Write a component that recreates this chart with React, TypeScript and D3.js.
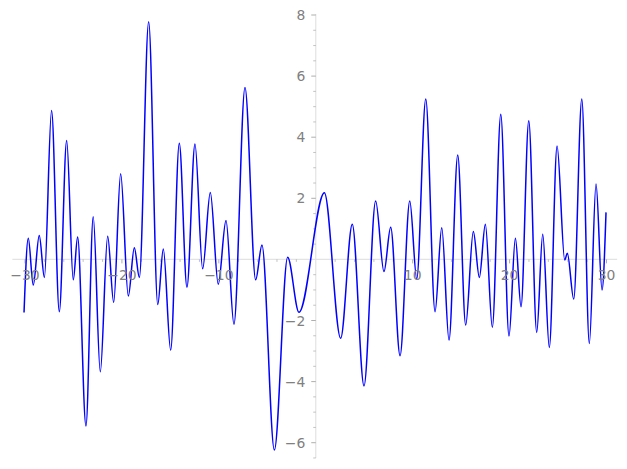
import React from "react";
import * as d3 from "d3";

// extrema of the curve (x, y)
const xs = [-30.1, -29.66, -29.15, -28.53, -28.0, -27.26, -26.46, -25.7, -25.02, -24.57, -23.71, -22.96, -22.23, -21.47, -20.85, -20.13, -19.34, -18.72, -18.2, -17.24, -16.3, -15.73, -14.97, -14.08, -13.29, -12.46, -11.67, -10.88, -10.06, -9.26, -8.44, -7.3, -6.2, -5.55, -4.27, -2.9, -1.73, 0.89, 2.57, 3.77, 4.98, 6.18, 7.04, 7.73, 8.7, 9.7, 10.42, 11.35, 12.31, 13.0, 13.75, 14.65, 15.47, 16.26, 16.88, 17.5, 18.22, 19.09, 19.94, 20.6, 21.18, 21.98, 22.8, 23.42, 24.1, 24.9, 25.69, 25.96, 26.62, 27.45, 28.23, 28.92, 29.54, 29.95];
const ys = [-1.74, 0.69, -0.84, 0.78, -0.59, 4.87, -1.71, 3.89, -0.67, 0.73, -5.45, 1.4, -3.68, 0.76, -1.41, 2.8, -1.2, 0.38, -0.59, 7.78, -1.48, 0.34, -2.97, 3.8, -0.91, 3.78, -0.31, 2.19, -0.81, 1.27, -2.12, 5.63, -0.67, 0.47, -6.24, 0.07, -1.73, 2.18, -2.58, 1.15, -4.14, 1.91, -0.4, 1.05, -3.15, 1.91, -0.64, 5.25, -1.71, 1.04, -2.64, 3.42, -2.15, 0.91, -0.59, 1.15, -2.22, 4.75, -2.51, 0.69, -1.55, 4.54, -2.39, 0.82, -2.88, 3.71, -0.02, 0.2, -1.3, 5.25, -2.75, 2.47, -1.0, 1.54];

const xMajor = [-30, -20, -10, 10, 20, 30];
const xMinor = [-28, -26, -24, -22, -18, -16, -14, -12, -8, -6, -4, -2, 2, 4, 6, 8, 12, 14, 16, 18, 22, 24, 26, 28];
const yMajor = [-6, -4, -2, 2, 4, 6, 8];
const yMinorStep = 0.5;

const W = 627;
const H = 469;

export default function App() {
  const x = d3.scaleLinear().domain([-30, 30]).range([25, 606.5]);
  const y = d3.scaleLinear().domain([-6, 8]).range([442.7, 15]);
  const pts: [number, number][] = xs.map((v, i) => [v, ys[i]]);
  const line = d3
    .line<[number, number]>()
    .x((d) => x(d[0]))
    .y((d) => y(d[1]))
    .curve(d3.curveMonotoneX);

  const yMinor: number[] = [];
  for (let v = -6.5; v <= 8.001; v += yMinorStep) {
    if (Math.abs(v) > 1e-6 && !yMajor.some((m) => Math.abs(m - v) < 1e-6)) yMinor.push(v);
  }

  const axisColor = "#e3e3e3";
  const tickColor = "#999999";
  const labelColor = "#808080";
  const font = "DejaVu Sans, sans-serif";

  return (
    <svg width={W} height={H} style={{ position: "absolute", left: 0, top: 0 }}>
      <rect width={W} height={H} fill="#fff" />
      {/* axes lines */}
      <line x1={x(-31.3)} x2={x(31.1)} y1={y(0)} y2={y(0)} stroke={axisColor} strokeWidth={1.2} />
      <line x1={x(0)} x2={x(0)} y1={y(8.03)} y2={y(-6.5)} stroke={axisColor} strokeWidth={1.2} />
      {/* x ticks */}
      {xMajor.map((v) => (
        <line key={"xM" + v} x1={x(v)} x2={x(v)} y1={y(0)} y2={y(0) + 4} stroke={tickColor} strokeWidth={0.8} />
      ))}
      {xMinor.map((v) => (
        <line key={"xm" + v} x1={x(v)} x2={x(v)} y1={y(0)} y2={y(0) + 2.5} stroke={tickColor} strokeWidth={0.6} />
      ))}
      {/* y ticks */}
      {yMajor.map((v) => (
        <line key={"yM" + v} x1={x(0) - 4.5} x2={x(0)} y1={y(v)} y2={y(v)} stroke={tickColor} strokeWidth={0.8} />
      ))}
      {yMinor.map((v) => (
        <line key={"ym" + v} x1={x(0) - 2.5} x2={x(0)} y1={y(v)} y2={y(v)} stroke={tickColor} strokeWidth={0.6} />
      ))}
      {/* curve */}
      <path d={line(pts) || ""} fill="none" stroke="#0000ff" strokeWidth={1.5} />
      {/* labels */}
      {xMajor.map((v) => (
        <text key={"xl" + v} x={x(v)} y={y(0) + 21} textAnchor="middle" fill={labelColor} fontFamily={font} fontSize={13.9}>
          {v < 0 ? "\u2212" + Math.abs(v) : String(v)}
        </text>
      ))}
      {yMajor.map((v) => (
        <text key={"yl" + v} x={x(0) - 10.5} y={y(v)} dy="0.36em" textAnchor="end" fill={labelColor} fontFamily={font} fontSize={13.9}>
          {v < 0 ? "\u2212" + Math.abs(v) : String(v)}
        </text>
      ))}
    </svg>
  );
}
